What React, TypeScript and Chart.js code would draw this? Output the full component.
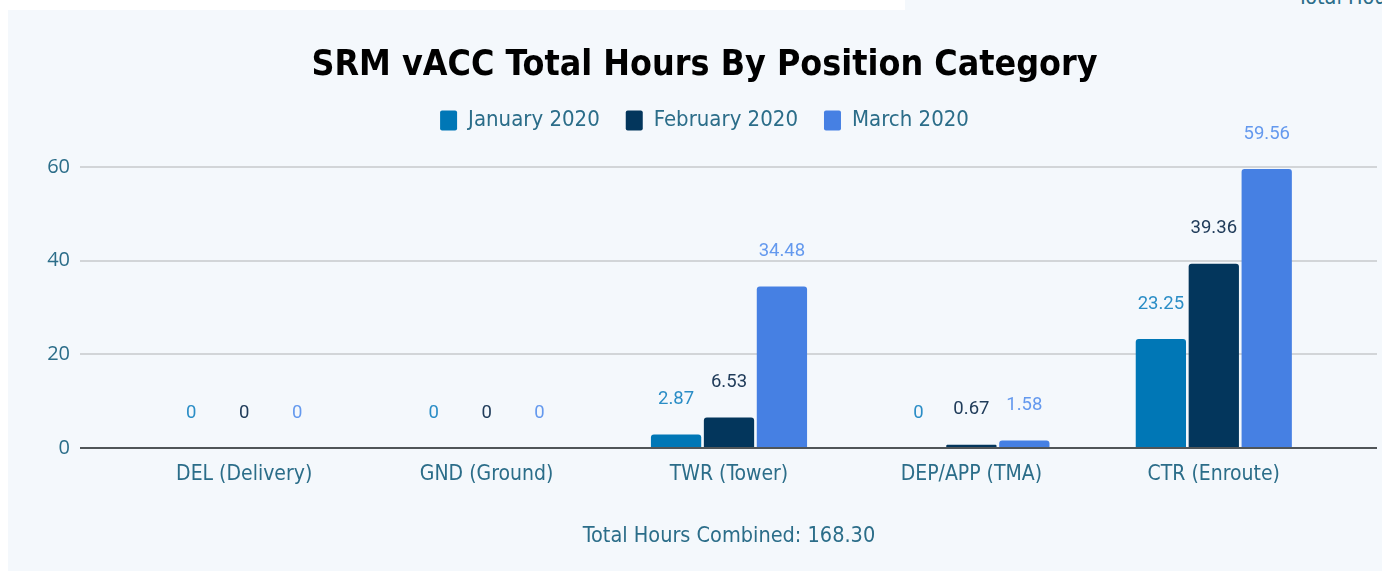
import React, { useEffect, useRef } from 'react';
import { Chart, registerables } from 'chart.js';

Chart.register(...registerables);

const categories = ['DEL (Delivery)', 'GND (Ground)', 'TWR (Tower)', 'DEP/APP (TMA)', 'CTR (Enroute)'];
const seriesNames = ['January 2020', 'February 2020', 'March 2020'];
const january = [0, 0, 2.87, 0, 23.25];
const february = [0, 0, 6.53, 0.67, 39.36];
const march = [0, 0, 34.48, 1.58, 59.56];
const yMin = 0;
const yMax = 60;
const yStep = 20;
const titleText = 'SRM vACC Total Hours By Position Category';
const footerPrefix = 'Total Hours Combined: ';

const barColors = ['#0077b6', '#03365c', '#4680e3'];
const labelColors = ['#2a8dc6', '#203c5a', '#6499ee'];
const textColor = '#2b6d89';
const panelBg = '#f4f8fc';
const condensed = "'DejaVu Sans Condensed', 'DejaVu Sans', sans-serif";

const seriesValues = [january, february, march];
const total = seriesValues.flat().reduce((a, b) => a + b, 0);

const valueLabels = {
  id: 'valueLabels',
  afterDatasetsDraw(chart: any) {
    const ctx = chart.ctx;
    ctx.save();
    ctx.font = '18.5px Roboto';
    ctx.textAlign = 'center';
    ctx.textBaseline = 'middle';
    chart.data.datasets.forEach((ds: any, i: number) => {
      const meta = chart.getDatasetMeta(i);
      meta.data.forEach((el: any, j: number) => {
        ctx.fillStyle = labelColors[i];
        ctx.fillText(String(ds.data[j]), el.x, el.y - 35);
      });
    });
    ctx.restore();
  },
};

export default function App() {
  const ref = useRef<HTMLCanvasElement>(null);
  useEffect(() => {
    if (!ref.current) return;
    const gridColor = (c: any) => (c.tick && c.tick.value === 0 ? '#505558' : '#d2d5d8');
    const chart = new Chart(ref.current, {
      type: 'bar',
      data: {
        labels: categories,
        datasets: seriesValues.map((vals, i) => ({
          label: seriesNames[i],
          data: vals,
          backgroundColor: barColors[i],
          borderRadius: 3,
          categoryPercentage: 0.655,
          barPercentage: 0.95,
        })),
      },
      options: {
        animation: false,
        responsive: false,
        layout: { padding: { left: 24, right: 0, top: 0, bottom: 0 } },
        plugins: {
          title: {
            display: true,
            text: titleText,
            color: '#000',
            font: { family: condensed, size: 35.5, weight: 'bold', lineHeight: 1 },
            padding: { top: 38, bottom: 0 },
          },
          subtitle: {
            display: true,
            text: '',
            weight: 500,
            font: { size: 10 },
            padding: { top: 0, bottom: 13.5 },
          } as any,
          legend: {
            display: true,
            position: 'top',
            labels: {
              color: textColor,
              font: { family: condensed, size: 22 },
              boxWidth: 17,
              boxHeight: 20,
              padding: 26,
              useBorderRadius: true,
              borderRadius: 2,
            } as any,
          },
          tooltip: { enabled: false },
        },
        scales: {
          x: {
            grid: { display: false, drawTicks: false },
            border: { display: false },
            ticks: { color: textColor, font: { family: condensed, size: 21 }, padding: 14 },
            title: {
              display: true,
              text: footerPrefix + total.toFixed(2),
              color: textColor,
              font: { family: condensed, size: 21.5 },
              padding: { top: 22, bottom: 22 },
            },
          },
          y: {
            min: yMin,
            max: yMax,
            border: { display: false },
            grid: { color: gridColor, lineWidth: 2, tickLength: 43 },
            ticks: { stepSize: yStep, color: textColor, font: { family: "'Open Sans', sans-serif", size: 20 }, padding: 10 },
            afterFit: (s: any) => { s.width = 91; },
          },
          y2: {
            position: 'right',
            min: yMin,
            max: yMax,
            border: { display: false },
            grid: { color: gridColor, lineWidth: 2, tickLength: 42, drawOnChartArea: false },
            ticks: { stepSize: yStep, display: false },
          },
        },
      },
      plugins: [valueLabels],
    });
    return () => chart.destroy();
  }, []);

  return (
    <>
      <div style={{ position: 'fixed', left: 905, top: 0, width: 477, height: 10, background: panelBg, overflow: 'hidden' }}>
        <span style={{ position: 'absolute', left: 392, top: -14, fontFamily: condensed, fontSize: 21.5, lineHeight: '22px', color: textColor, whiteSpace: 'nowrap' }}>Total Hours</span>
      </div>
      <div style={{ position: 'fixed', left: 8, top: 10, width: 1374, height: 561, background: panelBg }}>
        <canvas ref={ref} width={1369} height={561} style={{ display: 'block' }} />
      </div>
    </>
  );
}
